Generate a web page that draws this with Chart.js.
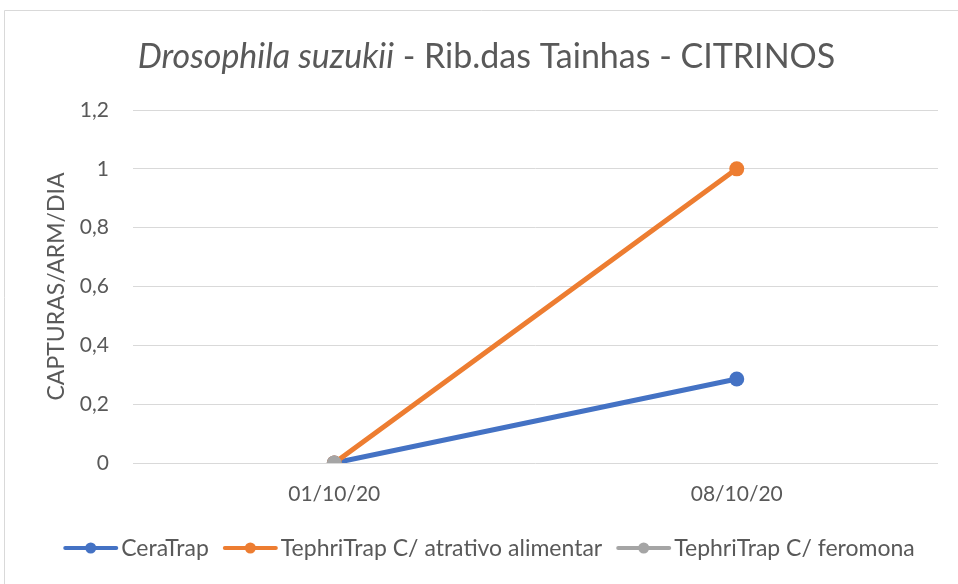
<!DOCTYPE html>
<html><head><meta charset="utf-8">
<script src="https://cdn.jsdelivr.net/npm/chart.js@4"></script>
<style>html,body{margin:0;padding:0;background:#fff;}canvas{display:block}</style>
</head><body>
<canvas id="c" width="958" height="584"></canvas>
<script>
const categories = ['01/10/20', '08/10/20'];
const seriesNames = ['CeraTrap', 'TephriTrap C/ atrativo alimentar', 'TephriTrap C/ feromona'];
const ceraTrap = [0, 0.2857];
const tephriAlimentar = [0, 1];
const tephriFeromona = [0, null];
const yTicks = [0, 0.2, 0.4, 0.6, 0.8, 1, 1.2];
const yTickLabels = ['0', '0,2', '0,4', '0,6', '0,8', '1', '1,2'];
const titleItalic = 'Drosophila suzukii';
const titleRest = ' - Rib.das Tainhas - CITRINOS';
const yTitle = 'CAPTURAS/ARM/DIA';

const FONT = 'Lato, "Open Sans", sans-serif';
const TXT = '#595959';
const colors = ['#4472C4', '#ED7D31', '#A5A5A5'];

const deco = {
  id: 'deco',
  beforeDraw(chart) {
    const ctx = chart.ctx;
    ctx.save();
    ctx.fillStyle = '#fff';
    ctx.fillRect(0, 0, chart.width, chart.height);
    ctx.strokeStyle = '#d9d9d9';
    ctx.lineWidth = 1;
    ctx.beginPath();
    ctx.moveTo(4.5, chart.height);
    ctx.lineTo(4.5, 10.5);
    ctx.lineTo(chart.width, 10.5);
    ctx.stroke();
    ctx.restore();
  },
  afterDraw(chart) {
    const ctx = chart.ctx;
    ctx.save();
    // title
    ctx.fillStyle = TXT;
    ctx.textBaseline = 'alphabetic';
    const size = 34;
    const fi = 'italic ' + size + 'px ' + FONT;
    const fn = size + 'px ' + FONT;
    ctx.font = fi; const w1 = ctx.measureText(titleItalic).width;
    ctx.font = fn; const w2 = ctx.measureText(titleRest).width;
    const x = 486.5 - (w1 + w2) / 2;
    const y = 68;
    ctx.font = fi; ctx.fillText(titleItalic, x, y);
    ctx.font = fn; ctx.fillText(titleRest, x + w1, y);
    // legend
    ctx.font = '23px ' + FONT;
    const lineW = 55, gapT = 3, gapI = 14;
    const widths = chart.data.datasets.map(d => ctx.measureText(d.label).width);
    const n = chart.data.datasets.length;
    const total = widths.reduce((a, b) => a + b, 0) + n * (lineW + gapT) + gapI * (n - 1);
    let lx = 489 - total / 2;
    const ly = 548;
    chart.data.datasets.forEach((d, i) => {
      ctx.strokeStyle = d.borderColor;
      ctx.lineWidth = 4;
      ctx.lineCap = 'round';
      ctx.beginPath(); ctx.moveTo(lx + 2, ly); ctx.lineTo(lx + lineW - 2, ly); ctx.stroke();
      ctx.fillStyle = d.borderColor;
      ctx.beginPath(); ctx.arc(lx + lineW / 2, ly, 5.5, 0, Math.PI * 2); ctx.fill();
      ctx.fillStyle = TXT;
      ctx.textBaseline = 'middle';
      ctx.fillText(d.label, lx + lineW + gapT, ly + 1);
      lx += lineW + gapT + widths[i] + gapI;
    });
    ctx.restore();
  }
};

const seriesData = [ceraTrap, tephriAlimentar, tephriFeromona];
const datasets = seriesNames.map((name, i) => ({
  label: name,
  data: seriesData[i],
  borderColor: colors[i],
  backgroundColor: colors[i],
  pointBackgroundColor: colors[i],
  pointBorderWidth: 0,
  pointRadius: 7.5,
  borderWidth: 5,
  borderCapStyle: 'round',
  order: 2 - i,
  fill: false,
  tension: 0
}));

new Chart(document.getElementById('c'), {
  type: 'line',
  data: { labels: categories, datasets },
  options: {
    responsive: false,
    animation: false,
    events: [],
    layout: { padding: { top: 110, right: 20, left: 0, bottom: 0 } },
    plugins: { legend: { display: false }, title: { display: false }, tooltip: { enabled: false } },
    scales: {
      x: {
        type: 'category',
        offset: true,
        grid: { display: false, drawTicks: false },
        border: { display: false },
        ticks: { color: TXT, font: { family: FONT, size: 21 }, padding: 19, maxRotation: 0 },
        afterFit: s => { s.height = 121; }
      },
      y: {
        min: 0, max: 1.2,
        grid: { color: '#d9d9d9', lineWidth: 1, drawTicks: false },
        border: { display: false },
        afterBuildTicks: s => { s.ticks = yTicks.map(v => ({ value: v })); },
        ticks: {
          color: TXT, font: { family: FONT, size: 21 }, padding: 24,
          callback: (v) => { const k = yTicks.indexOf(v); return k >= 0 ? yTickLabels[k] : ''; }
        },
        title: { display: true, text: yTitle, color: TXT, font: { family: FONT, size: 23 }, padding: { top: 43, bottom: 0 } },
        afterFit: s => { s.width = 133; }
      }
    }
  },
  plugins: [deco]
});
</script>
</body></html>
